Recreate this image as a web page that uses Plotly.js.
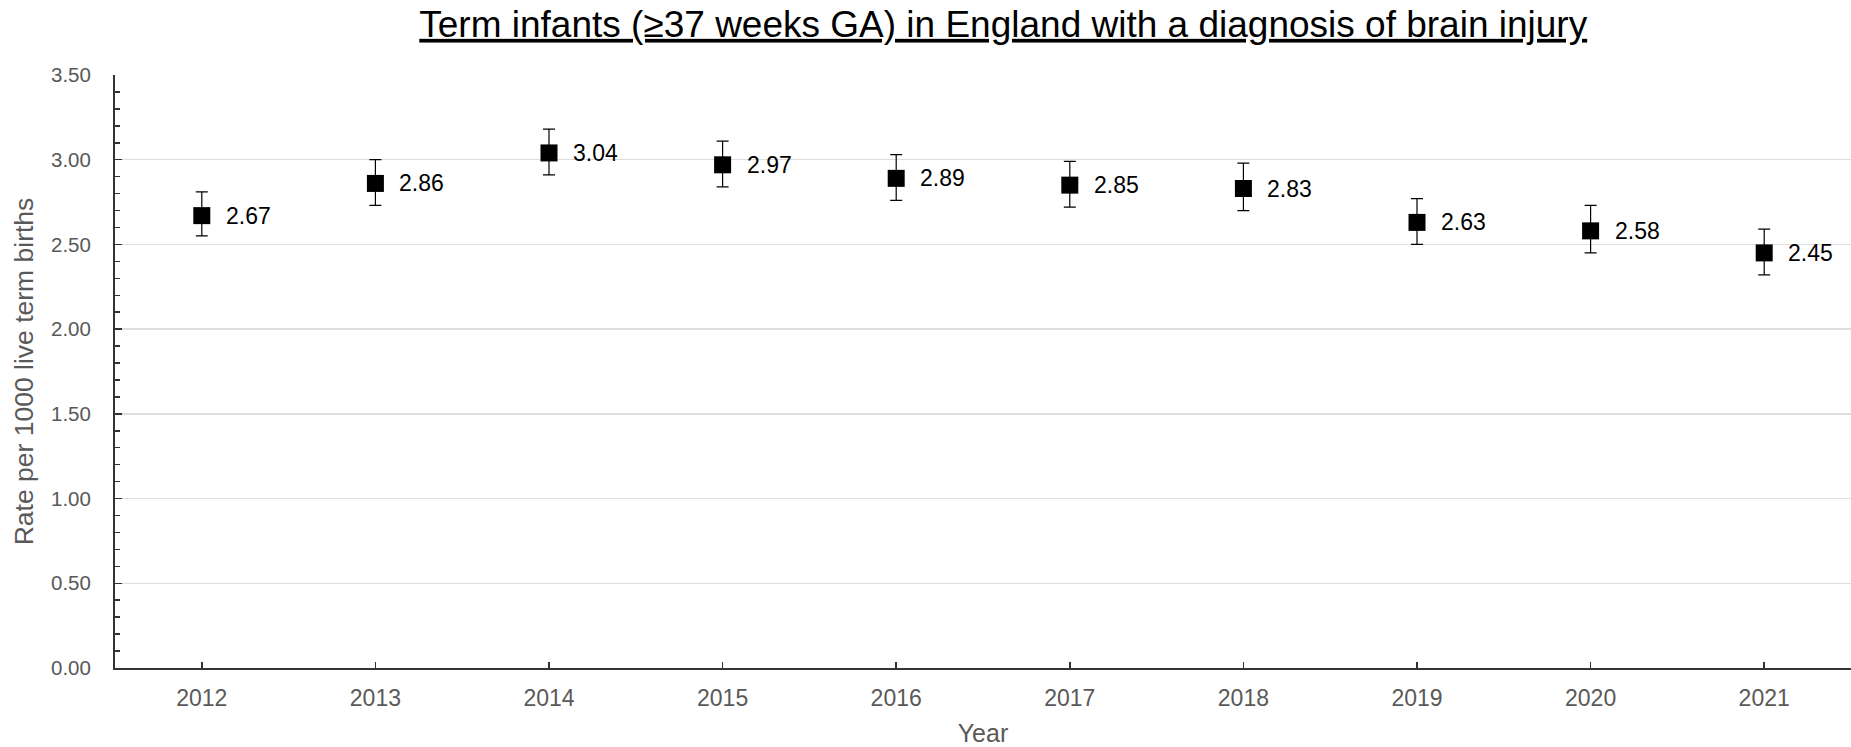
<!DOCTYPE html>
<html>
<head>
<meta charset="utf-8">
<script src="https://cdn.plot.ly/plotly-3.0.1.min.js"></script>
<style>html,body{margin:0;padding:0;background:#fff;}#chart{width:1851px;height:747px;}</style>
</head>
<body>
<div id="chart"></div>
<script>
const years = ["2012","2013","2014","2015","2016","2017","2018","2019","2020","2021"];
const rates = [2.67, 2.86, 3.04, 2.97, 2.89, 2.85, 2.83, 2.63, 2.58, 2.45];
const errUpper = [0.14, 0.14, 0.14, 0.14, 0.14, 0.14, 0.15, 0.14, 0.15, 0.14];
const errLower = [0.12, 0.13, 0.13, 0.13, 0.13, 0.13, 0.13, 0.13, 0.13, 0.13];
const yTickVals = [0, 0.5, 1, 1.5, 2, 2.5, 3, 3.5];
const yTickText = ["0.00","0.50","1.00","1.50","2.00","2.50","3.00","3.50"];

const trace = {
  x: years, y: rates, type: 'scatter', mode: 'markers',
  marker: {symbol: 'square', size: 17, color: '#000000'},
  error_y: {type: 'data', symmetric: false, array: errUpper, arrayminus: errLower,
            color: '#000000', thickness: 1.2, width: 6},
  hoverinfo: 'x+y', showlegend: false
};

// category index i on the category axis corresponds to years[i]
const annotations = years.map((yr, i) => ({
  x: i, y: rates[i], xref: 'x', yref: 'y', text: rates[i].toFixed(2),
  showarrow: false, xanchor: 'left', yanchor: 'middle', xshift: 22,
  font: {family: 'Liberation Sans, Arial, sans-serif', size: 23, color: '#000000'}
}));

const layout = {
  width: 1851, height: 747,
  paper_bgcolor: '#ffffff', plot_bgcolor: '#ffffff',
  margin: {l: 115, r: 0, t: 75, b: 79},
  title: {
    text: 'Term infants (≥37 weeks GA) in England with a diagnosis of brain injury',
    font: {family: 'Liberation Sans, Arial, sans-serif', size: 37, color: '#000000', lineposition: 'under'},
    xref: 'container', yref: 'container', x: 0.542, y: 0.968, xanchor: 'center', yanchor: 'middle'
  },
  xaxis: {
    type: 'category', categoryorder: 'array', categoryarray: years, range: [-0.5, 9.5],
    showline: true, linecolor: '#333333', linewidth: 2,
    ticks: 'inside', ticklen: 6, tickwidth: 1.5, tickcolor: '#333333',
    showgrid: false, zeroline: false,
    tickfont: {family: 'Liberation Sans, Arial, sans-serif', size: 23, color: '#595959'},
    ticklabelstandoff: 8,
    title: {text: 'Year', standoff: 16, font: {family: 'Liberation Sans, Arial, sans-serif', size: 25, color: '#595959'}},
    fixedrange: true
  },
  yaxis: {
    range: [0, 3.5], tickmode: 'array', tickvals: yTickVals, ticktext: yTickText,
    showline: true, linecolor: '#333333', linewidth: 2,
    ticks: 'inside', ticklen: 7, tickwidth: 1.5, tickcolor: '#333333',
    minor: {dtick: 0.1, tick0: 0, ticks: 'inside', ticklen: 5, tickwidth: 1.5, tickcolor: '#333333', showgrid: false},
    showgrid: true, gridcolor: '#dedede', gridwidth: 1.5, zeroline: false,
    tickfont: {family: 'Liberation Sans, Arial, sans-serif', size: 20.5, color: '#595959'},
    ticklabelstandoff: 18,
    title: {text: 'Rate per 1000 live term births', standoff: 10, font: {family: 'Liberation Sans, Arial, sans-serif', size: 26.5, color: '#595959'}},
    fixedrange: true
  },
  annotations: annotations
};

Plotly.newPlot('chart', [trace], layout, {displayModeBar: false, staticPlot: true});
</script>
</body>
</html>
